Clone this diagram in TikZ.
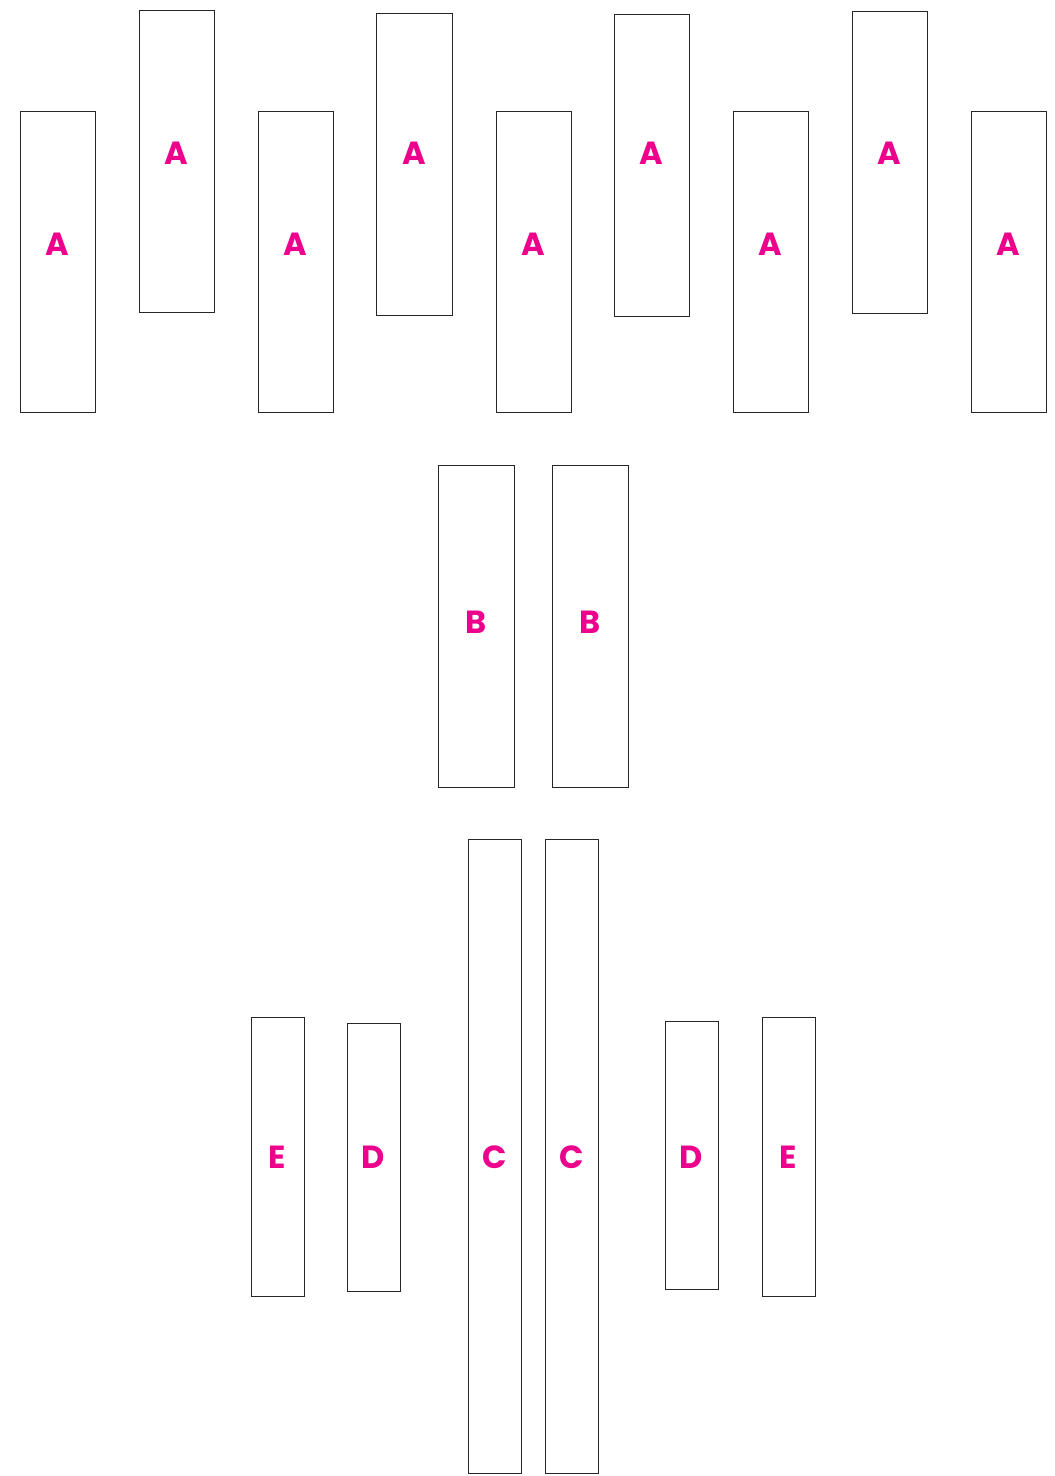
\documentclass[tikz,border=0pt]{standalone}
\usepackage{fontspec}
\newfontfamily\labfont{Poppins}[UprightFont=* Bold]
\definecolor{mag}{HTML}{EC008C}
\begin{document}
\begin{tikzpicture}[x=1pt,y=-1pt,
  bar/.style={draw=black!85, line width=1pt, fill=white},
  lab/.style={font=\labfont\fontsize{32}{32}\selectfont, text=mag, inner sep=0pt, anchor=center}]
\useasboundingbox (0,0) rectangle (1055,1476);
% Row A bottom
\foreach \x [count=\i] in {20,258,496,733,971}{
  \draw[bar] (\x,111) rectangle ++(75,301);
  \node[lab] (ab\i) at (\x+37.5,244) {A};
}
% Row A top
\draw[bar] (139,10) rectangle (214,312); \node[lab] (at1) at (176.5,153) {A};
\draw[bar] (376,13) rectangle (452,315); \node[lab] (at2) at (414,153) {A};
\draw[bar] (614,14) rectangle (689,316); \node[lab] (at3) at (651.5,153) {A};
\draw[bar] (852,11) rectangle (927,313); \node[lab] (at4) at (889.5,153) {A};
% B
\draw[bar] (438,465) rectangle (514,787); \node[lab] (b1) at (476,622) {B};
\draw[bar] (552,465) rectangle (628,787); \node[lab] (b2) at (590,622) {B};
% C
\draw[bar] (468,839) rectangle (521,1473); \node[lab] (c1) at (494.5,1157) {C};
\draw[bar] (545,839) rectangle (598,1473); \node[lab] (c2) at (571.5,1157) {C};
% D, E
\draw[bar] (251,1017) rectangle (304,1296); \node[lab] (e1) at (277.5,1157) {E};
\draw[bar] (347,1023) rectangle (400,1291); \node[lab] (d1) at (373.5,1157) {D};
\draw[bar] (665,1021) rectangle (718,1289); \node[lab] (d2) at (691.5,1157) {D};
\draw[bar] (762,1017) rectangle (815,1296); \node[lab] (e2) at (788.5,1157) {E};
\end{tikzpicture}
\end{document}
